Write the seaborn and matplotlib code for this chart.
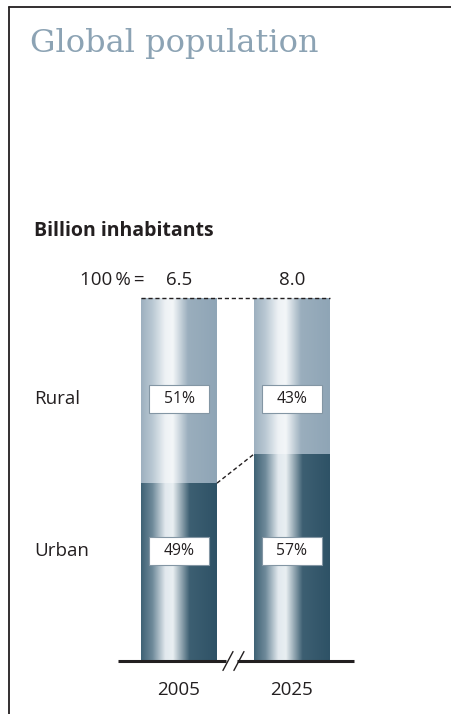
import numpy as np
import pandas as pd
import matplotlib
matplotlib.use("Agg")
import matplotlib.pyplot as plt
from matplotlib.colors import LinearSegmentedColormap
from matplotlib.patches import Rectangle
from matplotlib.lines import Line2D
import seaborn as sns

# Data
years = ["2005", "2025"]
totals = ["6.5", "8.0"]            # billion inhabitants (= 100 %)
urban_share = [49, 57]             # percent
rural_share = [51, 43]             # percent

sns.set_theme(style="white")
plt.rcParams["font.family"] = ["Open Sans", "DejaVu Sans"]

TXT = "#231f20"
W, H = 452, 714
fig = plt.figure(figsize=(W / 100, H / 100), dpi=100)
fig.patch.set_facecolor("white")

# plot area: baseline spans x 118..354 px, bar band y 298..661 px
ax = fig.add_axes([118 / W, (H - 661) / H, 236 / W, 363 / H])
ax.set_facecolor("none")

df = pd.DataFrame({"year": years, "urban": urban_share,
                   "total": [u + r for u, r in zip(urban_share, rural_share)]})

bar_w = 76 / 113
sns.barplot(data=df, x="year", y="total", color="#9aaebe", width=bar_w,
            saturation=1, ax=ax, linewidth=0)
sns.barplot(data=df, x="year", y="urban", color="#3a5c6f", width=bar_w,
            saturation=1, ax=ax, linewidth=0)

XL = (-0.54, 1.549)
ax.set_xlim(*XL)
ax.set_ylim(0, 100)
ax.axis("off")

# metallic cylinder shading
rural_cmap = LinearSegmentedColormap.from_list(
    "rural", [(0, "#9db0bf"), (0.15, "#b9c8d3"), (0.32, "#eef2f5"),
              (0.42, "#f3f6f8"), (0.62, "#9aaebd"), (1, "#8fa5b6")])
urban_cmap = LinearSegmentedColormap.from_list(
    "urban", [(0, "#3f6275"), (0.15, "#6f8a9a"), (0.32, "#e2e9ee"),
              (0.42, "#e9eff2"), (0.64, "#3d5f72"), (1, "#2e5266")])
grad = np.linspace(0, 1, 256).reshape(1, -1)
n = len(years)
for i, bar in enumerate(ax.patches):
    cmap = rural_cmap if i < n else urban_cmap
    x0, y0 = bar.get_x(), bar.get_y()
    w, h = bar.get_width(), bar.get_height()
    ax.imshow(grad, cmap=cmap, aspect="auto", extent=(x0, x0 + w, y0, y0 + h),
              zorder=3, interpolation="bilinear")
ax.set_xlim(*XL)
ax.set_ylim(0, 100)

# dashed line across the top (100 %) and connector between the urban tops
left_edge = ax.patches[0].get_x()
right_edge = ax.patches[1].get_x() + ax.patches[1].get_width()
ax.plot([left_edge, right_edge], [100, 100], color=TXT, lw=1,
        ls=(0, (3, 2)), zorder=4, clip_on=False)
ax.plot([ax.patches[n].get_x() + ax.patches[n].get_width(), ax.patches[n + 1].get_x()],
        [urban_share[0], urban_share[1]], color=TXT, lw=1, ls=(0, (3, 2)), zorder=4)

# baseline with break marks between the two bars
ax.plot([XL[0], 0.42], [0, 0], color=TXT, lw=2.2, clip_on=False, zorder=5,
        solid_capstyle="butt")
ax.plot([0.51, XL[1]], [0, 0], color=TXT, lw=2.2, clip_on=False, zorder=5,
        solid_capstyle="butt")
for dx in (0.0, 0.097):
    ax.plot([0.389 + dx, 0.478 + dx], [-2.6, 2.6], color=TXT, lw=1,
            clip_on=False, zorder=6)

# percentage boxes
box_w, box_h = 60 / 113, 28 / 3.63
for i in range(n):
    for val, yc in ((rural_share[i], 72.2), (urban_share[i], 30.3)):
        ax.add_patch(Rectangle((i - box_w / 2, yc - box_h / 2), box_w, box_h,
                               facecolor="white", edgecolor="#8396a4", lw=0.8,
                               zorder=7))
        ax.text(i, yc, f"{val}%", ha="center", va="center", fontsize=11.3,
                color=TXT, zorder=8)

# totals above bars and year labels
for i in range(n):
    ax.text(i, 103.6, totals[i], ha="center", va="baseline", fontsize=13.5,
            color=TXT, clip_on=False)
    ax.text(i, -8.0, years[i], ha="center", va="center", fontsize=13.5,
            color=TXT, clip_on=False)
ax.text(-0.3, 103.6, "100\u2009%\u2009=", ha="right", va="baseline", fontsize=13.5,
        color=TXT, clip_on=False)

# row labels
fig.text(34 / W, 1 - 399 / H, "Rural", ha="left", va="center", fontsize=13.5, color=TXT)
fig.text(34 / W, 1 - 551 / H, "Urban", ha="left", va="center", fontsize=13.5, color=TXT)

# headings
fig.text(30 / W, 1 - 52 / H, "Global population", ha="left", va="baseline",
         fontsize=23, color="#8ca3b4", family=["DejaVu Serif"])
fig.text(34 / W, 1 - 236 / H, "Billion inhabitants", ha="left", va="baseline",
         fontsize=14, fontweight="bold", color=TXT)

# panel frame (top and left rules)
fig.add_artist(Line2D([9 / W, 1], [1 - 7 / H, 1 - 7 / H], color=TXT, lw=1.3))
fig.add_artist(Line2D([9 / W, 9 / W], [0, 1 - 7 / H], color=TXT, lw=1.3))

fig.savefig("out.png", dpi=100, facecolor="white")
